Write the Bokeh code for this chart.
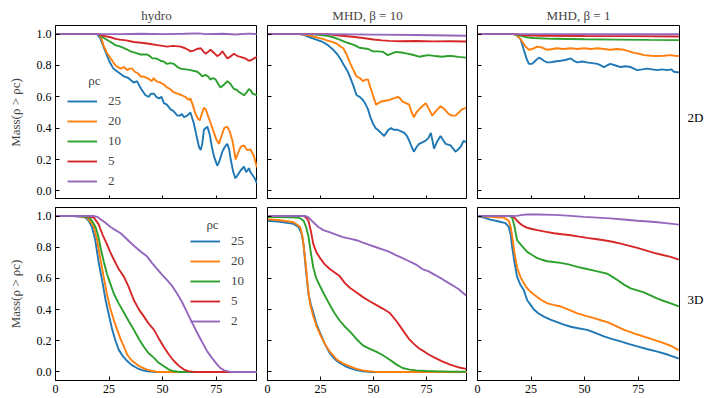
from bokeh.plotting import figure
from bokeh.layouts import row, column
from bokeh.models import (Range1d, Label, FixedTicker, PrintfTickFormatter,
                          LinearAxis, CustomLabelingPolicy)
from bokeh.embed import file_html
from bokeh.resources import INLINE

# ---------------- data (time, Mass(rho > rho_c)) ----------------
LEVELS = ["25", "20", "10", "5", "2"]
COL_TITLES = ["hydro", "MHD, β = 10", "MHD, β = 1"]
ROW_LABELS = ["2D", "3D"]
X_TICKS = [0, 25, 50, 75]
Y_TICKS = [0.0, 0.2, 0.4, 0.6, 0.8, 1.0]

# 2D hydro
h2_25 = [(0,1.0),(19.5,1.0),(21,0.97),(23,0.9),(25,0.83),(27,0.78),(29,0.76),(32,0.73),(34,0.72),(36.6,0.69),(38,0.70),(40,0.65),(42,0.61),(43.6,0.60),(44.5,0.62),(46,0.62),(47,0.60),(48.3,0.59),(49.5,0.60),(50.6,0.56),(52,0.55),(53.7,0.52),(55,0.51),(56.9,0.48),(58,0.48),(59,0.49),(60,0.47),(61.5,0.48),(63,0.50),(64.6,0.43),(66,0.34),(67,0.28),(67.8,0.26),(68.5,0.30),(69.3,0.39),(70.9,0.41),(72,0.36),(73,0.28),(74,0.22),(75.5,0.16),(76.5,0.19),(77.9,0.25),(79,0.28),(80.2,0.30),(81,0.27),(81.8,0.20),(83,0.12),(84,0.08),(85,0.10),(86.4,0.13),(88,0.155),(89,0.12),(89.6,0.13),(90.3,0.145),(91,0.12),(92,0.10),(93,0.08),(94,0.05)]
h2_20 = [(0,1.0),(20,1.0),(21.5,0.97),(22.6,0.92),(24,0.88),(25,0.86),(26.5,0.83),(28,0.80),(30.4,0.78),(32,0.79),(33.5,0.77),(34.5,0.78),(35.8,0.78),(37,0.76),(38.5,0.75),(39.7,0.73),(41,0.73),(42.8,0.72),(44,0.71),(45,0.70),(45.8,0.72),(47,0.70),(49,0.69),(50.5,0.68),(52,0.66),(53.5,0.65),(55,0.63),(57,0.62),(59,0.61),(60.5,0.60),(62.3,0.58),(63,0.59),(64,0.55),(65.4,0.49),(66.5,0.46),(67.4,0.45),(68.5,0.50),(69.3,0.53),(70.2,0.52),(70.9,0.49),(72.5,0.43),(74,0.37),(75,0.33),(76.3,0.30),(77.5,0.35),(78.7,0.40),(80.2,0.41),(81.3,0.38),(82.6,0.32),(83.5,0.25),(84.1,0.20),(85.2,0.24),(86.4,0.28),(88,0.29),(89,0.27),(89.6,0.26),(91,0.265),(92,0.24),(92.7,0.22),(94,0.15)]
h2_10 = [(0,1.0),(20,1.0),(22,0.98),(25.7,0.95),(28,0.93),(30.4,0.92),(33,0.905),(35,0.89),(37.5,0.88),(39.7,0.87),(42.8,0.87),(44,0.86),(45.2,0.845),(47,0.845),(49,0.83),(50.5,0.825),(52,0.81),(53.5,0.815),(55.3,0.81),(57,0.79),(58.4,0.78),(61,0.775),(63,0.77),(66.2,0.76),(67.5,0.745),(68.5,0.73),(70,0.74),(71.2,0.73),(72.4,0.71),(73.5,0.72),(74.8,0.71),(76,0.68),(77,0.66),(78.5,0.675),(80.2,0.70),(81.5,0.685),(83.3,0.65),(84.5,0.645),(85.7,0.63),(87,0.62),(88,0.61),(89.3,0.63),(90.3,0.65),(91.2,0.64),(92,0.62),(93,0.615),(94,0.61)]
h2_5 = [(0,1.0),(20,1.0),(22,0.99),(25.7,0.98),(28,0.97),(30,0.965),(33,0.96),(36.6,0.95),(40,0.945),(42.8,0.94),(45,0.935),(47.5,0.93),(50,0.925),(52,0.92),(55,0.925),(58.4,0.92),(60.5,0.91),(62,0.90),(63,0.89),(64.5,0.895),(66,0.905),(67.8,0.91),(69,0.89),(70,0.875),(71,0.885),(72.4,0.90),(74,0.88),(75.5,0.86),(76.7,0.87),(77.9,0.89),(79,0.87),(80.2,0.845),(81.5,0.855),(83.3,0.875),(85,0.86),(86.4,0.855),(88.5,0.845),(90.3,0.83),(91.5,0.835),(92.7,0.845),(94,0.855)]
h2_2 = [(0,1.0),(30,1.0),(40,1.002),(50,1.0),(60,1.002),(67,1.005),(70,1.0),(78,1.002),(84,0.998),(90,1.003),(94,1.0)]

# 2D MHD beta = 10
m10_2_25 = [(0,1.0),(15,1.0),(17,0.995),(20,0.98),(23,0.965),(26,0.95),(28.5,0.93),(31,0.90),(33,0.87),(34.5,0.84),(35.7,0.81),(37.5,0.77),(38.8,0.73),(40.5,0.67),(42,0.61),(43.5,0.60),(45,0.58),(46,0.56),(47.4,0.52),(48.5,0.47),(49.7,0.43),(51,0.40),(52,0.39),(53.5,0.37),(55,0.35),(56,0.37),(57,0.39),(58.3,0.40),(59.5,0.39),(61.4,0.39),(63,0.38),(64.5,0.37),(65.8,0.35),(66.8,0.32),(68,0.28),(69,0.25),(70.3,0.28),(71.5,0.30),(73,0.31),(74.6,0.32),(76,0.34),(77,0.37),(77.8,0.32),(78.5,0.27),(79.8,0.31),(81.6,0.35),(83,0.32),(84,0.30),(86.3,0.29),(87.5,0.27),(88.6,0.25),(90,0.265),(91,0.28),(92.5,0.32),(93.6,0.31)]
m10_2_20 = [(0,1.0),(15,1.0),(18,0.995),(20,0.99),(23,0.98),(26,0.97),(28,0.96),(30.5,0.95),(32.6,0.94),(34.5,0.92),(35.7,0.91),(37.3,0.87),(38.8,0.82),(40.5,0.77),(42,0.73),(43.5,0.72),(45,0.70),(46.3,0.71),(47.4,0.71),(48.5,0.66),(49.7,0.61),(51.2,0.55),(52.3,0.56),(53.6,0.57),(55.5,0.575),(57.5,0.58),(59.5,0.59),(61.4,0.60),(62.5,0.59),(63.7,0.57),(65.3,0.56),(66.8,0.55),(68,0.50),(69,0.47),(70.2,0.50),(71.5,0.52),(73,0.54),(74.6,0.56),(76.2,0.52),(77.7,0.48),(79.5,0.51),(81.6,0.54),(83.5,0.52),(85.5,0.49),(87,0.48),(88.6,0.48),(90.2,0.50),(91.7,0.52),(93.6,0.53)]
m10_2_10 = [(0,1.0),(20,1.0),(24,0.995),(28,0.99),(31,0.98),(34,0.965),(36.5,0.95),(38.8,0.94),(41,0.93),(43,0.915),(45,0.91),(47.5,0.905),(49.7,0.89),(52,0.89),(54.4,0.887),(56.7,0.866),(58.5,0.875),(60.6,0.887),(63,0.883),(65.3,0.877),(68,0.87),(71.5,0.856),(74,0.862),(76.2,0.866),(79,0.86),(82.4,0.856),(85,0.86),(87,0.86),(90,0.855),(93.6,0.85)]
m10_2_5 = [(0,1.0),(28,1.0),(31,0.995),(35,0.99),(40,0.983),(45,0.975),(50,0.966),(54,0.96),(57.5,0.957),(62,0.955),(70,0.956),(78,0.954),(86,0.955),(93.6,0.953)]
m10_2_2 = [(0,1.0),(30,1.0),(50,0.997),(70,0.994),(93.6,0.99)]

# 2D MHD beta = 1
m1_2_25 = [(0,1.0),(17,1.0),(18.5,0.99),(20,0.97),(21,0.93),(21.6,0.90),(23,0.84),(24,0.81),(25.5,0.81),(27,0.83),(28.7,0.85),(30,0.84),(31,0.83),(32.5,0.82),(34,0.82),(36,0.825),(38.8,0.83),(41,0.835),(43.5,0.845),(45,0.83),(46.6,0.82),(49,0.825),(51,0.82),(53.5,0.815),(56,0.81),(57.5,0.80),(59,0.79),(60.5,0.80),(62,0.81),(64.5,0.80),(66.8,0.79),(69,0.795),(71.5,0.79),(73,0.78),(74.6,0.77),(77,0.775),(79,0.78),(81.5,0.775),(84,0.77),(86,0.775),(88.6,0.77),(90.5,0.775),(91.7,0.76),(94,0.755)]
m1_2_20 = [(0,1.0),(17,1.0),(18.5,0.99),(20,0.97),(21,0.95),(22.5,0.92),(24,0.90),(25.5,0.905),(27.9,0.92),(30,0.915),(32.5,0.90),(35,0.905),(37,0.91),(40,0.905),(43.5,0.91),(46.5,0.905),(49.7,0.91),(53,0.905),(56,0.91),(59,0.905),(62,0.90),(65,0.905),(68.4,0.90),(71,0.89),(73,0.88),(75.5,0.875),(77.7,0.866),(81,0.862),(84,0.86),(87,0.862),(90,0.866),(92,0.862),(94,0.86)]
m1_2_10 = [(0,1.0),(17,1.0),(20,0.99),(23,0.98),(26,0.975),(35,0.97),(50,0.967),(65,0.965),(80,0.963),(94,0.962)]
m1_2_5 = [(0,1.0),(18,1.0),(22,0.993),(30,0.99),(50,0.988),(70,0.987),(94,0.985)]
m1_2_2 = [(0,1.0),(30,1.0),(60,0.999),(94,0.999)]

# 3D hydro
h3_25 = [(0,1.0),(8,1.0),(12,0.995),(14,0.99),(15.5,0.97),(17,0.93),(18.5,0.85),(20.2,0.70),(22,0.57),(23.4,0.46),(25,0.36),(26.5,0.27),(28,0.20),(29.6,0.14),(31.5,0.10),(33.5,0.07),(35.5,0.045),(38,0.025),(40,0.013),(42.8,0.004),(46,0.0),(94,0.0)]
h3_20 = [(0,1.0),(10,1.0),(13,0.995),(14.8,0.99),(16.5,0.96),(17.9,0.93),(19.5,0.84),(21,0.72),(22.5,0.61),(24,0.50),(25.5,0.41),(27.3,0.33),(28.8,0.27),(30.4,0.21),(32,0.16),(33.5,0.11),(35.5,0.075),(38,0.047),(40,0.03),(42.8,0.015),(45,0.006),(47.5,0.0),(94,0.0)]
h3_10 = [(0,1.0),(12,1.0),(15.6,0.99),(17,0.97),(18.7,0.93),(20,0.87),(21,0.80),(22.5,0.71),(24,0.63),(25.5,0.57),(27.3,0.50),(29.5,0.44),(32,0.38),(34,0.33),(36.6,0.27),(39,0.21),(41.3,0.16),(43.5,0.12),(46,0.09),(48,0.06),(50.6,0.036),(53,0.015),(55.3,0.004),(58,0.0),(94,0.0)]
h3_5 = [(0,1.0),(14,1.0),(16,0.995),(17.9,0.99),(20,0.95),(22,0.88),(24,0.82),(25.5,0.77),(27.3,0.72),(29.5,0.66),(32,0.61),(34,0.55),(36.6,0.46),(39,0.40),(41.3,0.355),(43.5,0.31),(46,0.27),(48,0.22),(50.6,0.16),(53,0.11),(55.3,0.07),(57.5,0.04),(60,0.015),(62,0.005),(64.6,0.0),(94,0.0)]
h3_2 = [(0,1.0),(18,1.0),(19.5,0.995),(21,0.98),(23,0.96),(25.7,0.93),(28,0.91),(30.4,0.89),(33.5,0.85),(36.6,0.81),(40,0.77),(42.8,0.74),(45,0.70),(47.5,0.66),(50,0.62),(52,0.59),(54.5,0.55),(56.9,0.50),(59,0.45),(61.5,0.38),(64,0.31),(66.2,0.25),(68.5,0.19),(70.9,0.13),(73,0.09),(75.5,0.047),(77,0.025),(78.7,0.01),(81.8,0.0),(94,0.0)]

# 3D MHD beta = 10
m10_3_25 = [(0,0.97),(5,0.965),(10,0.955),(12.3,0.95),(14.6,0.93),(16,0.89),(17,0.82),(18,0.67),(19.3,0.50),(20.5,0.43),(21.6,0.38),(23,0.31),(24.8,0.25),(27,0.18),(29.4,0.12),(31.5,0.085),(34,0.057),(36.5,0.038),(38.8,0.025),(42,0.012),(45,0.004),(48,0.0),(94,0.0)]
m10_3_20 = [(0,0.98),(5,0.975),(10,0.965),(12.3,0.96),(15.4,0.93),(16.5,0.87),(17.8,0.72),(19,0.55),(20,0.44),(21.5,0.36),(23.2,0.29),(25.5,0.22),(27.9,0.16),(30,0.12),(32.6,0.08),(35.5,0.055),(38.8,0.036),(42,0.02),(45,0.01),(48,0.004),(51,0.0),(94,0.0)]
m10_3_10 = [(0,0.995),(14,0.99),(15.5,0.985),(17,0.97),(18.2,0.93),(19.3,0.87),(20.5,0.76),(21.6,0.67),(23,0.60),(24.8,0.55),(27,0.49),(29.4,0.43),(31.5,0.38),(34,0.33),(36.5,0.29),(38.8,0.26),(42,0.21),(45,0.17),(48,0.15),(51.2,0.13),(54,0.11),(57.5,0.08),(60.5,0.05),(63.7,0.025),(67,0.015),(70,0.01),(75,0.006),(79.3,0.004),(85,0.002),(93.6,0.001)]
m10_3_5 = [(0,1.0),(17,1.0),(18.3,0.99),(19.3,0.97),(20.5,0.90),(21.6,0.82),(23,0.77),(24.8,0.73),(27,0.69),(29.4,0.66),(31.5,0.64),(34,0.615),(36.5,0.57),(38.8,0.54),(42,0.51),(45,0.48),(48,0.455),(51.2,0.43),(54.5,0.405),(57.5,0.38),(60.6,0.33),(63.7,0.27),(66.8,0.21),(69,0.18),(71.5,0.15),(74,0.13),(76.2,0.11),(79,0.09),(82.4,0.068),(85.5,0.05),(88.6,0.036),(91,0.027),(93.6,0.02)]
m10_3_2 = [(0,1.0),(18,1.0),(19.5,0.99),(21.6,0.96),(24,0.93),(26.3,0.91),(29.5,0.895),(32.6,0.88),(35.5,0.865),(38.8,0.855),(42,0.845),(45,0.83),(48,0.815),(51.2,0.80),(54.5,0.785),(57.5,0.77),(60.5,0.75),(63.7,0.73),(66,0.715),(68.4,0.70),(70.5,0.685),(73,0.66),(76,0.645),(79.3,0.62),(82.5,0.595),(85.5,0.57),(88,0.55),(90.2,0.53),(93.6,0.49)]

# 3D MHD beta = 1
m1_3_25 = [(0,1.0),(3,0.99),(6,0.977),(10,0.965),(13,0.955),(14.6,0.93),(15.5,0.88),(16.2,0.80),(17.3,0.70),(18.5,0.61),(20,0.56),(21.6,0.525),(23.2,0.46),(24.8,0.43),(26.3,0.40),(28.5,0.375),(31,0.355),(34,0.335),(37.2,0.32),(40,0.305),(43.5,0.29),(47,0.28),(51.2,0.27),(55,0.25),(59,0.228),(63,0.21),(66.8,0.196),(70.5,0.18),(74.6,0.164),(79,0.147),(84,0.13),(89,0.11),(94,0.085)]
m1_3_20 = [(0,1.0),(6,0.995),(10,0.99),(12.3,0.99),(14.6,0.97),(15.5,0.93),(16.2,0.87),(17.3,0.76),(18.5,0.67),(20,0.61),(21.6,0.57),(23,0.54),(24,0.525),(26,0.50),(27.9,0.48),(30,0.46),(32.6,0.44),(35.5,0.43),(38.8,0.42),(42.5,0.40),(46.6,0.376),(50.5,0.36),(54.4,0.345),(58,0.33),(60.6,0.32),(64.5,0.295),(68.4,0.27),(71.5,0.255),(74.6,0.24),(78.5,0.223),(82.4,0.206),(86,0.19),(90.2,0.168),(94,0.14)]
m1_3_10 = [(0,1.0),(15,1.0),(16.2,0.99),(17.3,0.93),(18.5,0.845),(20,0.82),(21.6,0.795),(23.2,0.77),(25.5,0.75),(27.9,0.73),(30,0.72),(32.6,0.71),(35.5,0.705),(38.8,0.70),(42.5,0.69),(46.6,0.674),(50.5,0.662),(54.4,0.65),(57.5,0.64),(60.6,0.63),(63,0.61),(65.3,0.59),(68.4,0.56),(71.5,0.536),(74.6,0.523),(77.7,0.51),(81,0.49),(84,0.47),(87,0.455),(90.2,0.44),(94,0.42)]
m1_3_5 = [(0,1.0),(16,1.0),(17.2,0.99),(18.5,0.97),(20,0.95),(21.6,0.935),(23.2,0.925),(25.5,0.917),(27.9,0.91),(31.5,0.90),(35.7,0.89),(39.5,0.883),(43.5,0.877),(47.5,0.868),(51.2,0.86),(55,0.853),(59,0.845),(63,0.835),(66.8,0.823),(70.5,0.81),(74.6,0.796),(78.5,0.78),(82.4,0.764),(86,0.752),(90.2,0.738),(94,0.72)]
m1_3_2 = [(0,1.0),(17,1.0),(19,1.003),(21,1.008),(23,1.01),(28,1.01),(35.7,1.008),(42,1.003),(49.7,0.995),(56,0.99),(62,0.985),(68,0.978),(74.6,0.97),(80,0.965),(84,0.96),(89,0.953),(94,0.945)]

PANELS = [
    [[h2_25, h2_20, h2_10, h2_5, h2_2],
     [m10_2_25, m10_2_20, m10_2_10, m10_2_5, m10_2_2],
     [m1_2_25, m1_2_20, m1_2_10, m1_2_5, m1_2_2]],
    [[h3_25, h3_20, h3_10, h3_5, h3_2],
     [m10_3_25, m10_3_20, m10_3_10, m10_3_5, m10_3_2],
     [m1_3_25, m1_3_20, m1_3_10, m1_3_5, m1_3_2]],
]

# ---------------- style ----------------
COLORS = ["#1f77b4", "#ff7f0e", "#2ca02c", "#d62728", "#9467bd"]
FONT = "Liberation Serif"
FRAME_W = [202, 200, 202]
FRAME_H = [174, 173]
BORDER_L = [55, 10, 10]
BORDER_R = [0, 0, 29]
BORDER_T = [25, 8]
BORDER_B = [0, 17]
LEGEND_LOC = [(12, 8), (135, 49)]
LEGEND_TITLE_POS = [(18.2, 0.707), (73.3, 0.943)]
ROW_LABEL_Y = 0.465


def hide_labels(ax):
    ax.major_label_text_font_size = "0px"
    ax.major_label_standoff = 0
    ax.major_label_policy = CustomLabelingPolicy(code="return []")


def make_panel(ri, ci):
    p = figure(frame_width=FRAME_W[ci], frame_height=FRAME_H[ri],
               output_backend="svg", toolbar_location=None,
               x_range=Range1d(0, 94.3), y_range=Range1d(-0.055, 1.055),
               min_border=0,
               min_border_left=BORDER_L[ci], min_border_right=BORDER_R[ci],
               min_border_top=BORDER_T[ri], min_border_bottom=BORDER_B[ri])
    p.background_fill_color = "white"
    p.border_fill_color = "white"
    p.outline_line_color = "black"
    p.outline_line_width = 1
    p.xgrid.visible = False
    p.ygrid.visible = False

    for curve, lev, col in zip(PANELS[ri][ci], LEVELS, COLORS):
        xs = [c[0] for c in curve]
        ys = [c[1] for c in curve]
        if ci == 0:
            p.line(xs, ys, line_color=col, line_width=1.9, legend_label=lev)
        else:
            p.line(xs, ys, line_color=col, line_width=1.9)

    for ax in (p.xaxis[0], p.yaxis[0]):
        ax.major_tick_in = 4
        ax.major_tick_out = 0
        ax.minor_tick_line_color = None
        ax.axis_line_color = "black"
        ax.major_tick_line_color = "black"
        ax.major_label_text_font = FONT
        ax.major_label_text_font_size = "12px"
        ax.major_label_text_color = "black"
        ax.major_label_standoff = 4
    p.xaxis.ticker = FixedTicker(ticks=X_TICKS)
    p.yaxis.ticker = FixedTicker(ticks=Y_TICKS)
    p.yaxis.formatter = PrintfTickFormatter(format="%.1f")

    if ri == 0:
        hide_labels(p.xaxis[0])
        p.title.text = COL_TITLES[ci]
        p.title.align = "center"
        p.title.text_font = FONT
        p.title.text_font_size = "13px"
        p.title.text_font_style = "normal"
        p.title.standoff = 5
    if ci != 0:
        hide_labels(p.yaxis[0])
    else:
        p.yaxis.axis_label = "Mass(ρ > ρc)"
        p.yaxis.axis_label_text_font = FONT
        p.yaxis.axis_label_text_font_size = "13px"
        p.yaxis.axis_label_text_font_style = "normal"
        p.yaxis.axis_label_standoff = 11
        lg = p.legend[0]
        lg.location = LEGEND_LOC[ri]
        lg.padding = 0
        lg.margin = 0
        lg.spacing = 0
        lg.glyph_width = 30
        lg.glyph_height = 20
        lg.label_height = 20
        lg.label_standoff = 11
        lg.border_line_color = None
        lg.background_fill_alpha = 0
        lg.label_text_font = FONT
        lg.label_text_font_size = "13px"
        tx, ty = LEGEND_TITLE_POS[ri]
        p.add_layout(Label(x=tx, y=ty, text="ρc", text_font=FONT,
                           text_font_size="13px", text_align="center",
                           text_baseline="middle"))

    if ci == 2:
        rax = LinearAxis(ticker=FixedTicker(ticks=[ROW_LABEL_Y]),
                         major_label_overrides={ROW_LABEL_Y: ROW_LABELS[ri]})
        rax.axis_line_color = None
        rax.major_tick_line_color = None
        rax.minor_tick_line_color = None
        rax.major_label_orientation = "horizontal"
        rax.major_label_standoff = 2
        rax.major_label_text_font = FONT
        rax.major_label_text_font_size = "13px"
        rax.major_label_text_color = "black"
        p.add_layout(rax, "right")
    return p


rows = []
for ri in range(2):
    rows.append(row([make_panel(ri, ci) for ci in range(3)], spacing=0))
layout = column(rows, spacing=0)

open("out.html", "w").write(file_html(layout, INLINE))
